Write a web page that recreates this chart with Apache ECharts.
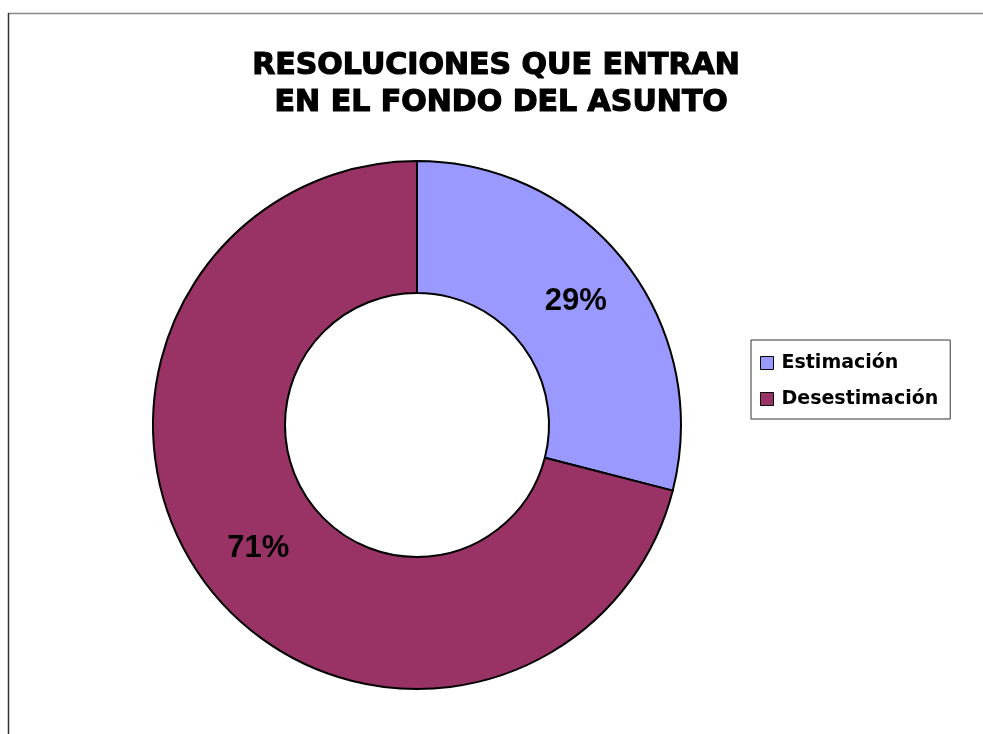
<!DOCTYPE html>
<html>
<head>
<meta charset="utf-8">
<script src="https://cdn.jsdelivr.net/npm/echarts@6/dist/echarts.min.js"></script>
<style>
  html, body { margin: 0; padding: 0; background: #fff; }
  #chart { width: 983px; height: 734px; }
</style>
</head>
<body>
<div id="chart"></div>
<script>
// datos
var categorias = ['Estimación', 'Desestimación'];
var valores = [29, 71];
var colores = ['#9999FF', '#993366'];

var chart = echarts.init(document.getElementById('chart'));

var datos = categorias.map(function (c, i) {
    return { name: c, value: valores[i], itemStyle: { color: colores[i] } };
});

chart.setOption({
    backgroundColor: '#fff',
    animation: false,
    title: {
        text: 'RESOLUCIONES QUE ENTRAN\n EN EL FONDO DEL ASUNTO',
        left: 491,
        top: 43,
        textAlign: 'center',
        textStyle: {
            fontFamily: 'DejaVu Sans',
            fontWeight: 'bold',
            fontSize: 30,
            lineHeight: 37,
            color: '#000',
            textBorderColor: '#000',
            textBorderWidth: 1.2
        }
    },
    legend: {
        orient: 'vertical',
        left: 751,
        top: 340,
        padding: [13, 12, 10, 9],
        itemGap: 16,
        itemWidth: 13,
        itemHeight: 13,
        icon: 'rect',
        backgroundColor: '#fff',
        borderColor: '#333',
        borderWidth: 1,
        selectedMode: false,
        itemStyle: { borderColor: '#000', borderWidth: 1 },
        textStyle: {
            fontFamily: 'DejaVu Sans',
            fontWeight: 'bold',
            fontSize: 19,
            lineHeight: 20,
            color: '#000',
            padding: [0, 0, 0, 3]
        },
        data: categorias
    },
    graphic: [
        { type: 'line', shape: { x1: 8, y1: 13.5, x2: 983, y2: 13.5 }, style: { stroke: '#888', lineWidth: 1.5 } },
        { type: 'line', shape: { x1: 8.5, y1: 13, x2: 8.5, y2: 734 }, style: { stroke: '#333', lineWidth: 1.5 } }
    ],
    series: [{
        type: 'pie',
        center: [417, 425],
        radius: [132, 264],
        startAngle: 90,
        clockwise: true,
        avoidLabelOverlap: false,
        itemStyle: { borderColor: '#000', borderWidth: 2 },
        label: {
            show: true,
            position: 'inside',
            formatter: '{c}%',
            fontFamily: 'Liberation Sans',
            fontWeight: 'bold',
            fontSize: 31,
            color: '#000'
        },
        labelLine: { show: false },
        emphasis: { disabled: true },
        data: datos
    }]
});
</script>
</body>
</html>
